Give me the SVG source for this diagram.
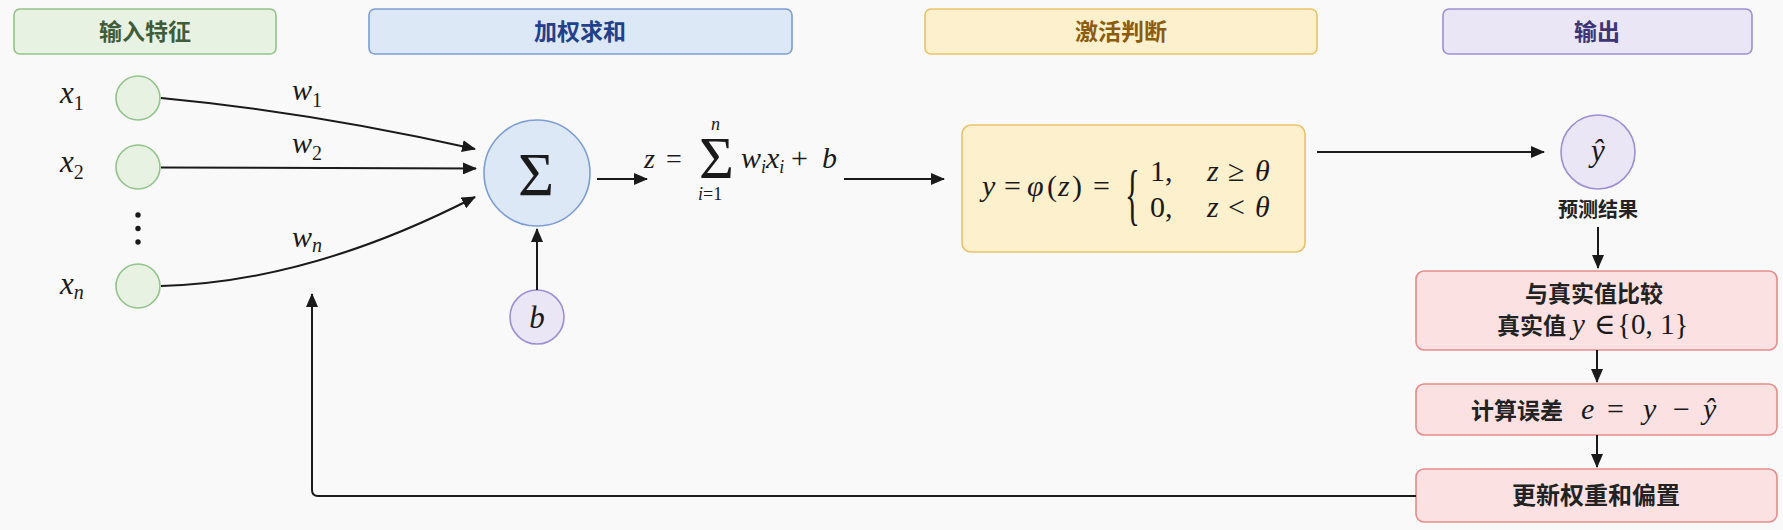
<svg xmlns="http://www.w3.org/2000/svg" width="1783" height="530" viewBox="0 0 1783 530">
<defs>
<marker id="arr" markerUnits="userSpaceOnUse" markerWidth="14" markerHeight="12" refX="13" refY="6" orient="auto">
<path d="M0,0 L14,6 L0,12 z" fill="#1a1a1a"/>
</marker>
<style>
.hdr{font-family:"Noto Sans CJK SC","Noto Sans",sans-serif;font-size:23px;font-weight:bold;text-anchor:middle}
.cjk{font-family:"Noto Sans CJK SC","Noto Sans",sans-serif;font-size:23px;font-weight:bold;fill:#222}
.m{font-family:"Liberation Serif","DejaVu Serif",serif;fill:#1a1a1a;font-weight:normal}
.i{font-style:italic}
.ln{fill:none;stroke:#1a1a1a;stroke-width:2}
.green{fill:#e7f2e3;stroke:#93c38b;stroke-width:1.6}
.blue{fill:#dde8f7;stroke:#7d9dd2;stroke-width:1.6}
.yellow{fill:#fdf0cd;stroke:#e8c26a;stroke-width:1.6}
.purple{fill:#eae6f6;stroke:#9d90d2;stroke-width:1.6}
.red{fill:#fbe1e1;stroke:#e38d8d;stroke-width:1.6}
</style>
</defs>
<rect width="1783" height="530" fill="#f9f9f9"/>

<g id="header-input">
<rect class="green" x="14" y="9" width="262" height="45" rx="6"/>
<text class="hdr" x="145" y="40" fill="#3f5c3b">输入特征</text>
</g>
<g id="header-sum">
<rect class="blue" x="369" y="9" width="423" height="45" rx="6"/>
<text class="hdr" x="580" y="40" fill="#23408a">加权求和</text>
</g>
<g id="header-activation">
<rect class="yellow" x="925" y="9" width="392" height="45" rx="6"/>
<text class="hdr" x="1121" y="40" fill="#8a5c0c">激活判断</text>
</g>
<g id="header-output">
<rect class="purple" x="1443" y="9" width="309" height="45" rx="6"/>
<text class="hdr" x="1597" y="40" fill="#3e3478">输出</text>
</g>

<g id="input-x1">
<circle class="green" cx="138" cy="98" r="22"/>
<text class="m i" x="60" y="103" font-size="31">x<tspan font-style="normal" font-size="20" dy="7">1</tspan></text>
</g>
<g id="input-x2">
<circle class="green" cx="138" cy="167" r="22"/>
<text class="m i" x="60" y="172" font-size="31">x<tspan font-style="normal" font-size="20" dy="7">2</tspan></text>
</g>
<g id="input-dots">
<circle cx="138" cy="215" r="2.7" fill="#1a1a1a"/>
<circle cx="138" cy="228.5" r="2.7" fill="#1a1a1a"/>
<circle cx="138" cy="242" r="2.7" fill="#1a1a1a"/>
</g>
<g id="input-xn">
<circle class="green" cx="138" cy="286" r="22"/>
<text class="m i" x="60" y="294" font-size="31">x<tspan font-size="20" dy="5">n</tspan></text>
</g>

<g id="sum-node">
<circle class="blue" cx="537" cy="173" r="53"/>
<text class="m" x="536" y="195" font-size="62" text-anchor="middle">Σ</text>
</g>
<g id="bias-node">
<circle class="purple" cx="537" cy="317" r="27"/>
<text class="m i" x="537" y="328" font-size="31" text-anchor="middle">b</text>
</g>

<g id="sum-formula">
<text class="m" font-size="28"><tspan class="i" x="644" y="168">z</tspan><tspan x="666" y="168">=</tspan><tspan x="699" y="178" font-size="60">Σ</tspan><tspan class="i" x="711" y="130" font-size="18">n</tspan><tspan class="i" x="698" y="200" font-size="18">i</tspan><tspan font-size="18">=1</tspan><tspan class="i" x="741" y="168" font-size="30">w</tspan><tspan class="i" font-size="18" dy="5">i</tspan><tspan class="i" font-size="30" dy="-5">x</tspan><tspan class="i" font-size="18" dy="5">i</tspan><tspan x="791" y="168" font-size="30">+</tspan><tspan class="i" x="822" y="168" font-size="30">b</tspan></text>
</g>

<g id="activation-node">
<rect class="yellow" x="962" y="125" width="343" height="127" rx="9"/>
<text class="m" y="196" font-size="30"><tspan x="982" font-style="italic">y</tspan><tspan x="1004">=</tspan><tspan x="1027" font-style="italic">φ</tspan><tspan x="1047">(</tspan><tspan x="1058" font-style="italic">z</tspan><tspan x="1072">)</tspan><tspan x="1093">=</tspan></text>
<text class="m" transform="translate(1125 217) scale(1 2.15)" font-size="31">{</text>
<text class="m" font-size="30"><tspan x="1150" y="181">1,</tspan><tspan x="1207" y="181" font-style="italic">z</tspan><tspan x="1228" y="181">≥</tspan><tspan x="1255" y="181" font-style="italic">θ</tspan><tspan x="1150" y="217">0,</tspan><tspan x="1207" y="217" font-style="italic">z</tspan><tspan x="1228" y="217">&lt;</tspan><tspan x="1255" y="217" font-style="italic">θ</tspan></text>
</g>

<g id="output-node">
<circle class="purple" cx="1598" cy="152" r="37"/>
<text class="m i" x="1598" y="161" font-size="31" text-anchor="middle">ŷ</text>
<text class="cjk" x="1598" y="217" text-anchor="middle" style="font-size:20px">预测结果</text>
</g>

<g id="compare-node">
<rect class="red" x="1416" y="271" width="361" height="79" rx="8"/>
<text class="cjk" x="1594" y="302" text-anchor="middle">与真实值比较</text>
<text class="cjk" y="334"><tspan x="1497">真实值</tspan><tspan class="m i" x="1572" font-size="29">y</tspan><tspan class="m" x="1594" font-size="29">∈</tspan><tspan class="m" x="1617" font-size="29">{0, 1}</tspan></text>
</g>
<g id="error-node">
<rect class="red" x="1416" y="384" width="361" height="51" rx="8"/>
<text class="cjk" y="419"><tspan x="1471">计算误差</tspan><tspan class="m i" x="1581" font-size="30">e</tspan><tspan class="m" x="1607" font-size="30">=</tspan><tspan class="m i" x="1643" font-size="30">y</tspan><tspan class="m" x="1673" font-size="30">−</tspan><tspan class="m i" x="1703" font-size="30">ŷ</tspan></text>
</g>
<g id="update-node">
<rect class="red" x="1416" y="469" width="361" height="53" rx="8"/>
<text class="cjk" x="1596" y="504" text-anchor="middle" style="font-size:24px">更新权重和偏置</text>
</g>

<g id="connectors">
<path class="ln" d="M161,98 Q310,112 475,149" marker-end="url(#arr)"/>
<path class="ln" d="M161,167.5 L476,168.5" marker-end="url(#arr)"/>
<path class="ln" d="M161,286 Q310,282 475,197" marker-end="url(#arr)"/>
<text class="m i" x="292" y="100" font-size="30">w<tspan font-style="normal" font-size="20" dy="7">1</tspan></text>
<text class="m i" x="292" y="153" font-size="30">w<tspan font-style="normal" font-size="20" dy="7">2</tspan></text>
<text class="m i" x="292" y="247" font-size="30">w<tspan font-size="20" dy="5">n</tspan></text>
<path class="ln" d="M537,290 L537,229" marker-end="url(#arr)"/>
<path class="ln" d="M597,179 L647,179" marker-end="url(#arr)"/>
<path class="ln" d="M844,179 L944,179" marker-end="url(#arr)"/>
<path class="ln" d="M1317,152 L1544,152" marker-end="url(#arr)"/>
<path class="ln" d="M1598,227 L1598,268" marker-end="url(#arr)"/>
<path class="ln" d="M1597,350 L1597,382" marker-end="url(#arr)"/>
<path class="ln" d="M1597,435 L1597,467" marker-end="url(#arr)"/>
<path class="ln" d="M1416,496 H318 Q312,496 312,490 V294" marker-end="url(#arr)"/>
</g>
</svg>
